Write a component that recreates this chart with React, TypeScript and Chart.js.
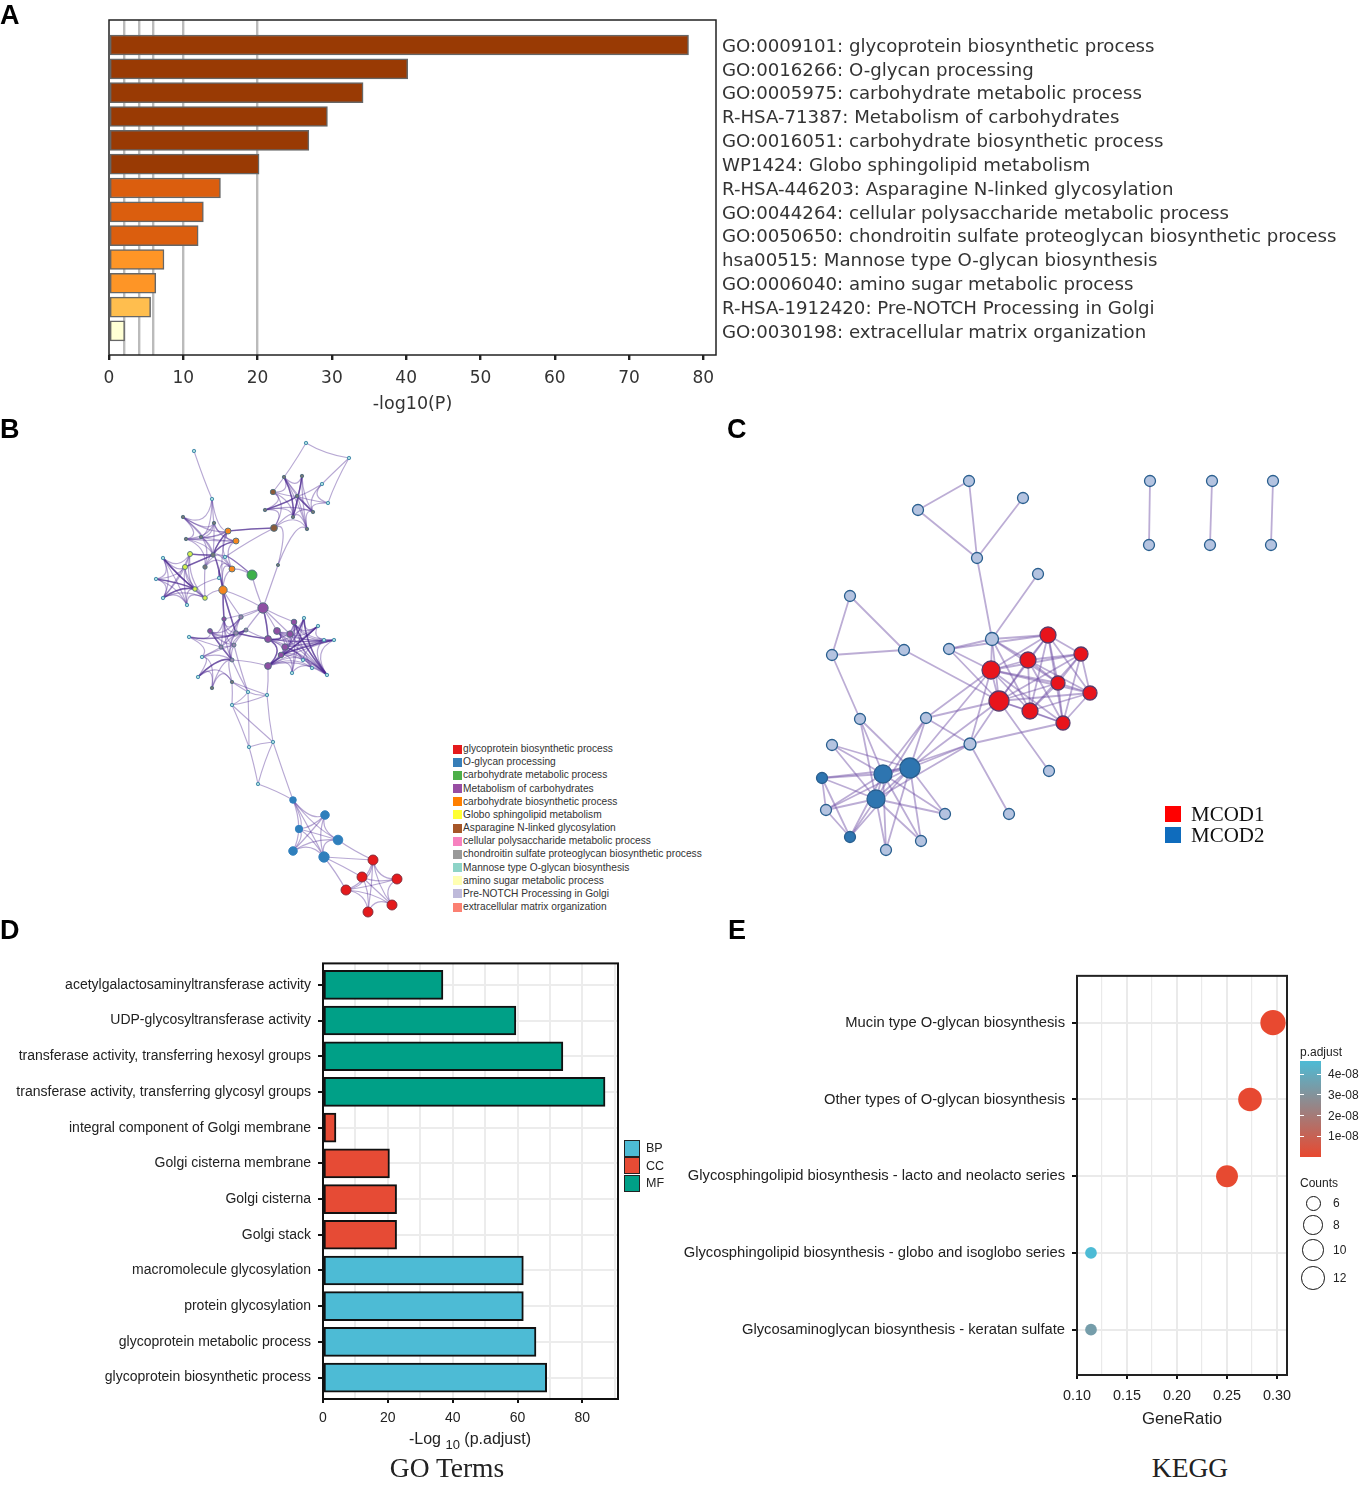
import React, { useEffect, useRef } from "react";
import { Chart, registerables } from "chart.js";

Chart.register(...registerables);

// ---------- Panel A ----------
const aTerms = [
  "GO:0009101: glycoprotein biosynthetic process",
  "GO:0016266: O-glycan processing",
  "GO:0005975: carbohydrate metabolic process",
  "R-HSA-71387: Metabolism of carbohydrates",
  "GO:0016051: carbohydrate biosynthetic process",
  "WP1424: Globo sphingolipid metabolism",
  "R-HSA-446203: Asparagine N-linked glycosylation",
  "GO:0044264: cellular polysaccharide metabolic process",
  "GO:0050650: chondroitin sulfate proteoglycan biosynthetic process",
  "hsa00515: Mannose type O-glycan biosynthesis",
  "GO:0006040: amino sugar metabolic process",
  "R-HSA-1912420: Pre-NOTCH Processing in Golgi",
  "GO:0030198: extracellular matrix organization",
];
const aValues = [78, 40.2, 34.2, 29.4, 26.9, 20.2, 15, 12.7, 12, 7.4, 6.3, 5.6, 2.1];
const aLevels = [0, 0, 0, 0, 0, 0, 1, 1, 1, 2, 2, 3, 4];
const aPalette = ["#993A04", "#DB5E0E", "#FE9526", "#FFBE4E", "#FFFFD4"];
const aTicks = [0, 2, 4, 6, 10, 20, 30, 40, 50, 60, 70, 80];
const aGridLines = [2, 4, 6, 10, 20];

// ---------- Panel B ----------
const bNodeX = [306,349,284,302,322,328,273,297,265,313,293,307,274,278, 194,212,183,214,228,236,186,201,213,225,205,232,219,252,223, 163,190,185,156,195,205,163,187, 263, 224,241,210,236,246,189,221,234,202,232,198,212,232, 294,304,318,277,290,268,285,324,334,281,303,268,312,292,327, 248,267,232,273,249,258, 293,325,299,338,293,324, 373,362,397,346,392,368];
const bNodeY = [443,458,477,476,484,503,492,496,510,512,517,529,528,565, 451,499,517,523,531,541,539,537,555,557,567,569,578,575,590, 558,554,567,579,589,598,598,605, 608, 619,617,631,633,630,637,647,645,657,660,677,688,682, 622,618,626,631,634,639,647,640,640,655,660,666,668,673,675, 692,695,705,742,747,784, 800,815,829,840,851,857, 860,877,879,890,905,912];
const bNodeGroup = [9,9,8,8,9,9,6,8,8,8,8,8,6,8, 9,9,8,8,4,4,8,8,8,9,8,4,9,2,4, 9,5,5,9,5,5,9,9, 3, 3,11,3,11,11,9,11,11,9,11,9,8,8, 3,9,9,3,3,3,3,9,9,3,9,3,9,9,9, 9,9,9,9,9,9, 1,1,1,1,1,1, 0,0,0,0,0,0];
const bNodeSize = [1.7,1.7,1.7,1.7,1.7,1.7,2.7,1.7,1.7,1.7,1.7,1.7,3.4,1.6, 1.7,1.7,1.7,1.7,3,3,1.7,1.7,2.2,1.7,2.2,3,1.7,5,4.2, 1.7,2.5,2.5,1.7,2.3,2.3,1.7,1.7, 5.2, 2.2,2.2,2.4,2.2,2,1.7,2,2,1.7,2,1.7,1.7,1.7, 2.8,1.7,1.7,3.4,3.2,3.4,3.2,1.7,1.7,2.8,1.7,3.4,1.7,1.7,1.7, 1.7,1.7,1.7,1.7,1.7,1.7, 3.3,4.3,3.7,4.8,4.3,5.2, 5,5,5,5,5,5];
const bClusterStarts = [0, 14, 29, 37, 38, 51, 66, 72, 78];
const bLinks: [number, number[]][] = [
  [2,[7,10,6,9,3,11]],[3,[7,10,11,9]],[6,[12,8,7,10]],[7,[8,9,10,11,4,5]],[8,[10,12,9]],[10,[12,9,11]],[9,[11,5,4]],[4,[5]],[12,[13,11,18,23]],[11,[13]],[13,[37]],
  [15,[17,16,18,21]],[16,[17,20,21,22,18]],[17,[21,20,22,18,19]],[18,[22,19,28,21,20]],[19,[22,20,21,25]],[20,[21,22,24]],[21,[22,24]],[22,[24,25,28,30,31]],[23,[25,27,24,18]],[25,[28,24,26]],[26,[28,33]],
  [29,[30,31,32,33,35,36,34]],[30,[31,33,34,35]],[31,[32,33,34,35,36]],[32,[33,35,36]],[33,[34,35,36]],[34,[35,36,28,24]],[35,[36]],
  [27,[28,37,23]],[28,[37,38,39,41]],[37,[54,56,51,55,38,42,39]],
  [38,[39,40,41,42,45,47,44]],[39,[40,41,42,44]],[40,[41,43,44,45,42]],[41,[42,44,45,47,56]],[42,[45,56,47]],[43,[44,46]],[44,[45,46,47]],[45,[47,46,66]],[46,[47,49,48]],[47,[50,48,49,62,66]],[48,[49,50]],[49,[50]],[50,[68,66,67]],
  [51,[52,53,54,55,56,57,65,64,63,59,58]],[52,[55,57,60,65,64,54,53]],[53,[55,57,60,62,59]],[54,[55,56,57,60,65,58]],[55,[56,57,60,65,59,62]],[56,[57,60,62,65,59,58]],[57,[60,62,63,65,59,58,61]],[58,[59,61,65,60]],[59,[60,62,65]],[60,[62,64,61,65]],[61,[62,63,65]],[62,[63,64,65,67]],[64,[65]],[63,[65]],
  [72,[73,74,75,76,77]],[73,[74,75,76,77]],[74,[75,76,77]],[75,[76,77,78]],[76,[77]],[77,[78,79,81]],
  [78,[79,80,81,82,83]],[79,[80,81,82,83]],[80,[81,82]],[81,[82,83]],[82,[83]],
];
const bSparseLinks: [number, number[]][] = [
  [0,[1,6]],[1,[4,5]],[14,[15]],
  [66,[67,68,70]],[67,[68,69]],[68,[69,70]],[69,[70,71,72]],[70,[71]],[71,[72]],
];
const bHeavyLinks: [number, number[]][] = [
  [18,[22]],[19,[22]],[22,[28,30,31]],[12,[18]],[2,[10]],[3,[10]],[8,[7]],[7,[9]],[29,[33]],[32,[33]],[35,[33]],[28,[38,41]],[37,[56]],[56,[54,62]],[51,[65]],[52,[65]],[53,[62]],[59,[60]],[40,[47]],[43,[42]],[41,[56]],[48,[47]],
];
const bLegendTerms = [
  "glycoprotein biosynthetic process","O-glycan processing","carbohydrate metabolic process","Metabolism of carbohydrates","carbohydrate biosynthetic process","Globo sphingolipid metabolism","Asparagine N-linked glycosylation","cellular polysaccharide metabolic process","chondroitin sulfate proteoglycan biosynthetic process","Mannose type O-glycan biosynthesis","amino sugar metabolic process","Pre-NOTCH Processing in Golgi","extracellular matrix organization",
];
const bLegendPalette = ["#E41A1C","#377EB8","#4DAF4A","#984EA3","#FF7F00","#FFFF33","#A65628","#F781BF","#999999","#8DD3C7","#FFFFB3","#BEBADA","#FB8072"];
const bNodePalette = ["#E41A1C","#2F7FBC","#3DB04A","#8E4FA3","#F5861F","#D6F24A","#8A5A3A","#F781BF","#767676","#A6DCDC","#FFFFB3","#9A86B0","#FB8072"];

// ---------- Panel C ----------
const cNodeX = [969,918,1023,977,1150,1149,1212,1210,1273,1271,1038,850,832,904,949,992,1048,1081,1028,991,1058,1090,999,1030,1063,860,926,970,832,1049,910,883,822,876,826,945,1009,850,921,886];
const cNodeY = [481,510,498,558,481,545,481,545,481,545,574,596,655,650,649,639,635,654,660,670,683,693,701,711,723,719,718,744,745,771,768,774,778,799,810,814,814,837,841,850];
const cNodeGroup = [2,2,2,2,2,2,2,2,2,2,2,2,2,2,2,2,0,0,0,0,0,0,0,0,0,2,2,2,2,2,1,1,1,1,2,2,2,1,2,2];
const cNodeSize = [5.5,5.5,5.5,5.5,5.5,5.5,5.5,5.5,5.5,5.5,5.5,5.5,5.5,5.5,5.5,6.5,8,7,8,9,7,7,10,8,7,5.5,5.5,6,5.5,5.5,10,9,5.5,9,5.5,5.5,5.5,5.5,5.5,5.5];
const cLinks: [number, number[]][] = [
  [0,[1,3]],[1,[3]],[2,[3]],[3,[15]],[10,[15]],[4,[5]],[6,[7]],[8,[9]],
  [11,[12,13]],[12,[13,25]],[13,[22]],[14,[15,19,16,22]],[15,[16,18,19,22,20,23]],
  [16,[17,18,19,20,21,22,23,24]],[17,[18,19,20,21,22,23,24]],[18,[19,20,21,22,23,24]],[19,[20,22,23,24,21]],[20,[21,22,23,24]],[21,[22,23,24]],[22,[23,24,29]],[23,[24]],
  [26,[19,22,27,30,33,31]],[27,[19,30,31,33,24,36,22]],[25,[30,31,33]],[28,[30,31,33]],[32,[31,30,33,34,37]],
  [33,[30,31,34,35,37,38,39]],[31,[30,34,35,37,38,39]],[30,[34,35,37,38,39,19,22]],[34,[37]],
];
const cNodePalette = ["#E8141C", "#2E75B0", "#B4C3E0"];
const cLegendNames = ["MCOD1", "MCOD2"];
const cLegendPalette = ["#FF0000", "#0F6CBD"];

// ---------- Panel D ----------
const dTerms = [
  "acetylgalactosaminyltransferase activity","UDP-glycosyltransferase activity","transferase activity, transferring hexosyl groups","transferase activity, transferring glycosyl groups","integral component of Golgi membrane","Golgi cisterna membrane","Golgi cisterna","Golgi stack","macromolecule glycosylation","protein glycosylation","glycoprotein metabolic process","glycoprotein biosynthetic process",
];
const dValues = [37, 59.5, 74, 87, 4, 20.5, 22.7, 22.7, 61.8, 61.8, 65.7, 69];
const dClasses = [2, 2, 2, 2, 1, 1, 1, 1, 0, 0, 0, 0];
const dClassNames = ["BP", "CC", "MF"];
const dPalette = ["#4DBBD5", "#E64B35", "#00A087"];
const dTicks = [0, 10, 20, 30, 40, 50, 60, 70, 80, 90];

// ---------- Panel E ----------
const ePathways = [
  "Mucin type O-glycan biosynthesis","Other types of O-glycan biosynthesis","Glycosphingolipid biosynthesis - lacto and neolacto series","Glycosphingolipid biosynthesis - globo and isoglobo series","Glycosaminoglycan biosynthesis - keratan sulfate",
];
const eGeneRatio = [0.296, 0.273, 0.25, 0.114, 0.114];
const eCounts = [13, 12, 11, 5, 5];
const ePAdjust = [1e-10, 2e-10, 3e-10, 4.6e-8, 3.4e-8];
const eXTicks = [0.1, 0.125, 0.15, 0.175, 0.2, 0.225, 0.25, 0.275, 0.3];
const eColorTicks = ["4e-08", "3e-08", "2e-08", "1e-08"];
const eSizeLegend = [6, 8, 10, 12];
const eSizeLegendRadius = [7.5, 9.7, 10.7, 11.8];
const eSizeLegendY = [1203, 1225, 1250, 1278];
const ePMax = 4.6e-8;

const SANS = '"Liberation Sans", Arial, sans-serif';
const DEJA = '"DejaVu Sans", sans-serif';
const SERIF = '"Liberation Serif", serif';

const eRadius = (count: number) => 0.85 * count + 1.6;
const eColor = (p: number) => {
  const t = Math.min(1, p / ePMax);
  const mix = (a: number, b: number) => Math.round(a + (b - a) * t);
  return `rgb(${mix(232, 77)},${mix(73, 187)},${mix(48, 213)})`;
};

const framePlugin = {
  id: "frame",
  afterDatasetsDraw(c: any, _a: any, o: any) {
    const { left, top, width, height } = c.chartArea;
    const ctx = c.ctx;
    ctx.save();
    ctx.strokeStyle = o.color || "#000";
    ctx.lineWidth = o.width || 2;
    ctx.strokeRect(left, top, width, height);
    ctx.restore();
  },
};

const expand = (links: [number, number[]][]) =>
  links.flatMap(([a, bs]) => bs.map((b) => [a, b] as [number, number]));

// Draws network edges through the chart's scales; bend pulls edges towards their cluster's centre.
function edgePlugin(
  xs: number[],
  ys: number[],
  tiers: { links: [number, number[]][]; color: string; width: number; bend?: number }[],
  clusterStarts?: number[],
) {
  const clusterOf = (i: number) => {
    if (!clusterStarts) return 0;
    let c = 0;
    clusterStarts.forEach((s, k) => {
      if (i >= s) c = k;
    });
    return c;
  };
  const centres: Record<number, [number, number]> = {};
  if (clusterStarts) {
    clusterStarts.forEach((_s, k) => {
      const idx = xs.map((_, i) => i).filter((i) => clusterOf(i) === k);
      centres[k] = [
        idx.reduce((t, i) => t + xs[i], 0) / idx.length,
        idx.reduce((t, i) => t + ys[i], 0) / idx.length,
      ];
    });
  }
  return {
    id: "edges",
    beforeDatasetsDraw(c: any) {
      const ctx = c.ctx;
      const X = c.scales.x;
      const Y = c.scales.y;
      ctx.save();
      ctx.lineCap = "round";
      tiers.forEach((tier) => {
        ctx.strokeStyle = tier.color;
        ctx.lineWidth = tier.width;
        expand(tier.links).forEach(([a, b]) => {
          const mx = (xs[a] + xs[b]) / 2;
          const my = (ys[a] + ys[b]) / 2;
          let cx = mx;
          let cy = my;
          if (clusterStarts) {
            const ca = clusterOf(a);
            const cb = clusterOf(b);
            const k = ca === cb ? tier.bend ?? 0.6 : 0.12;
            const tx = (centres[ca][0] + centres[cb][0]) / 2;
            const ty = (centres[ca][1] + centres[cb][1]) / 2;
            cx = mx + (tx - mx) * k;
            cy = my + (ty - my) * k;
          }
          ctx.beginPath();
          ctx.moveTo(X.getPixelForValue(xs[a]), Y.getPixelForValue(ys[a]));
          ctx.quadraticCurveTo(
            X.getPixelForValue(cx),
            Y.getPixelForValue(cy),
            X.getPixelForValue(xs[b]),
            Y.getPixelForValue(ys[b]),
          );
          ctx.stroke();
        });
      });
      ctx.restore();
    },
  };
}

const noExtras = { legend: { display: false }, tooltip: { enabled: false }, title: { display: false } };

function Panel({ left, top, width, height, make }: any) {
  const ref = useRef<HTMLCanvasElement>(null);
  useEffect(() => {
    const chart = new Chart(ref.current as HTMLCanvasElement, make());
    return () => chart.destroy();
  }, []);
  return (
    <canvas
      ref={ref}
      width={width}
      height={height}
      style={{ position: "absolute", left, top, width, height, display: "block" }}
    />
  );
}

function panelA() {
  return {
    type: "bar",
    data: {
      datasets: [
        {
          data: aValues.map((v, i) => ({ x: v, y: i })),
          backgroundColor: aLevels.map((l) => aPalette[l]),
          borderColor: "#666",
          borderWidth: 1.5,
          borderSkipped: false,
          barThickness: 20,
        },
      ],
    },
    plugins: [framePlugin],
    options: {
      indexAxis: "y",
      responsive: false,
      animation: false,
      layout: { autoPadding: false, padding: { left: 109, top: 20, right: 0, bottom: 0 } },
      plugins: { ...noExtras, frame: { color: "#222", width: 1.5 } },
      scales: {
        x: {
          type: "linear",
          min: 0,
          max: 81.7,
          afterFit: (s: any) => { s.height = 65; },
          afterBuildTicks: (s: any) => { s.ticks = aTicks.map((value) => ({ value })); },
          grid: {
            color: (c: any) => (aGridLines.includes(c.tick?.value) ? "#BBBBBB" : "transparent"),
            lineWidth: 2.4,
            tickColor: (c: any) => (c.tick?.value % 10 === 0 ? "#222" : "transparent"),
            tickLength: 5,
          },
          border: { display: false },
          ticks: {
            autoSkip: false,
            maxRotation: 0,
            color: "#333",
            font: { family: DEJA, size: 17 },
            padding: 8,
            callback: (v: number) => (v % 10 === 0 ? String(v) : ""),
          },
          title: { display: true, text: "-log10(P)", color: "#333", font: { family: DEJA, size: 17.5 }, padding: { top: 0, bottom: 5 } },
        },
        y: {
          type: "linear",
          display: false,
          reverse: true,
          offset: false,
          min: -1.05,
          max: 13.01,
          grid: { offset: false },
        },
        termAxis: {
          type: "linear",
          position: "right",
          reverse: true,
          offset: false,
          min: -1.134,
          max: 12.926,
          afterFit: (s: any) => { s.width = 651; },
          afterBuildTicks: (s: any) => { s.ticks = aTerms.map((_, value) => ({ value })); },
          grid: { display: false, drawTicks: false, offset: false },
          border: { display: false },
          ticks: {
            autoSkip: false,
            color: "#333",
            padding: 6,
            font: { family: DEJA, size: 18.16 },
            callback: (v: number) => aTerms[v],
          },
        },
      },
    },
  };
}

function networkConfig(
  xs: number[],
  ys: number[],
  sizes: number[],
  fills: string[],
  borders: string[],
  borderWidth: number,
  box: { left: number; top: number; width: number; height: number },
  plugin: any,
) {
  return {
    type: "scatter",
    data: {
      datasets: [
        {
          data: xs.map((x, i) => ({ x, y: ys[i] })),
          pointRadius: sizes,
          pointBackgroundColor: fills,
          pointBorderColor: borders,
          pointBorderWidth: borderWidth,
          showLine: false,
          clip: false,
        },
      ],
    },
    plugins: [plugin],
    options: {
      responsive: false,
      animation: false,
      layout: { autoPadding: false, padding: 0 },
      plugins: noExtras,
      scales: {
        x: { type: "linear", display: false, min: box.left, max: box.left + box.width },
        y: { type: "linear", display: false, reverse: true, min: box.top, max: box.top + box.height },
      },
    },
  };
}

const bBox = { left: 140, top: 430, width: 290, height: 495 };
const cBox = { left: 800, top: 460, width: 500, height: 410 };

function panelB() {
  return networkConfig(
    bNodeX,
    bNodeY,
    bNodeSize,
    bNodeGroup.map((g) => bNodePalette[g]),
    bNodeGroup.map((g) => (g === 9 ? "#3F87A8" : g === 0 ? "#7A2A3A" : g === 1 ? "#2F7FBC" : "#4F6F7F")),
    0.9,
    bBox,
    edgePlugin(
      bNodeX,
      bNodeY,
      [
        { links: bLinks, color: "rgba(84,48,150,0.42)", width: 1.2 },
        { links: bSparseLinks, color: "rgba(84,48,150,0.42)", width: 1.1, bend: 0.08 },
        { links: bHeavyLinks, color: "rgba(72,36,140,0.6)", width: 1.6 },
      ],
      bClusterStarts,
    ),
  );
}

function panelC() {
  return networkConfig(
    cNodeX,
    cNodeY,
    cNodeSize,
    cNodeGroup.map((g) => cNodePalette[g]),
    cNodeGroup.map((g) => (g === 0 ? "#5A3A6A" : "#2A5F8F")),
    1.3,
    cBox,
    edgePlugin(cNodeX, cNodeY, [{ links: cLinks, color: "rgba(112,80,165,0.47)", width: 1.8 }]),
  );
}

function panelD() {
  return {
    type: "bar",
    data: {
      datasets: [
        {
          data: dValues.map((v, i) => ({ x: v, y: i })),
          backgroundColor: dClasses.map((c) => dPalette[c]),
          borderColor: "#111",
          borderWidth: 2,
          borderSkipped: false,
          barThickness: 29,
        },
      ],
    },
    plugins: [framePlugin],
    options: {
      indexAxis: "y",
      responsive: false,
      animation: false,
      layout: { autoPadding: false, padding: { left: 0, top: 15, right: 42, bottom: 0 } },
      plugins: { ...noExtras, frame: { color: "#111", width: 2 } },
      scales: {
        x: {
          type: "linear",
          min: 0,
          max: 91,
          afterFit: (s: any) => { s.height = 41; },
          afterBuildTicks: (s: any) => { s.ticks = dTicks.map((value) => ({ value })); },
          grid: {
            color: "#ECECEC",
            lineWidth: 2,
            tickColor: (c: any) => (c.tick?.value % 20 === 0 ? "#111" : "transparent"),
            tickLength: 4,
          },
          border: { display: false },
          ticks: {
            autoSkip: false,
            maxRotation: 0,
            color: "#222",
            font: { family: SANS, size: 14 },
            padding: 7,
            callback: (v: number) => (v % 20 === 0 ? String(v) : ""),
          },
        },
        y: {
          type: "linear",
          reverse: true,
          offset: false,
          min: -0.6,
          max: 11.6,
          afterFit: (s: any) => { s.width = 323; },
          afterBuildTicks: (s: any) => { s.ticks = dTerms.map((_, value) => ({ value })); },
          grid: { offset: false, color: "#ECECEC", lineWidth: 2, tickColor: "#111", tickLength: 5 },
          border: { display: false },
          ticks: {
            autoSkip: false,
            color: "#222",
            padding: 7,
            font: { family: SANS, size: 14 },
            callback: (v: number) => dTerms[v],
          },
        },
      },
    },
  };
}

function panelE() {
  return {
    type: "bubble",
    data: {
      datasets: [
        {
          data: eGeneRatio.map((x, i) => ({ x, y: i, r: eRadius(eCounts[i]) })),
          backgroundColor: ePAdjust.map(eColor),
          borderColor: ePAdjust.map(eColor),
          borderWidth: 0,
          clip: false,
        },
      ],
    },
    plugins: [framePlugin],
    options: {
      responsive: false,
      animation: false,
      layout: { autoPadding: false, padding: { left: 0, top: 15, right: 80, bottom: 0 } },
      plugins: { ...noExtras, frame: { color: "#222", width: 2 } },
      scales: {
        x: {
          type: "linear",
          min: 0.1,
          max: 0.31,
          afterFit: (s: any) => { s.height = 65; },
          afterBuildTicks: (s: any) => { s.ticks = eXTicks.map((value) => ({ value })); },
          grid: {
            color: "#EAEAEA",
            lineWidth: (c: any) => (Math.round((c.tick?.value ?? 0) * 1000) % 50 === 0 ? 2 : 1.2),
            tickColor: (c: any) => (Math.round((c.tick?.value ?? 0) * 1000) % 50 === 0 ? "#111" : "transparent"),
            tickLength: 4,
          },
          border: { display: false },
          ticks: {
            autoSkip: false,
            maxRotation: 0,
            color: "#222",
            font: { family: SANS, size: 14.4 },
            padding: 8,
            callback: (v: number) => (Math.round(v * 1000) % 50 === 0 ? v.toFixed(2) : ""),
          },
          title: { display: true, text: "GeneRatio", color: "#222", font: { family: SANS, size: 16.8 }, padding: { top: 0, bottom: 11 } },
        },
        y: {
          type: "linear",
          reverse: true,
          min: -0.61,
          max: 4.59,
          afterFit: (s: any) => { s.width = 417; },
          afterBuildTicks: (s: any) => { s.ticks = ePathways.map((_, value) => ({ value })); },
          grid: { color: "#EAEAEA", lineWidth: 2, tickColor: "#111", tickLength: 5 },
          border: { display: false },
          ticks: {
            autoSkip: false,
            color: "#222",
            padding: 7,
            font: { family: SANS, size: 14.76 },
            callback: (v: number) => ePathways[v],
          },
        },
      },
    },
  };
}

function Label({ x, y, children, style }: any) {
  return (
    <div
      style={{
        position: "absolute",
        left: x,
        top: y,
        transform: "translateY(-50%)",
        whiteSpace: "nowrap",
        lineHeight: 1,
        fontFamily: SANS,
        ...style,
      }}
    >
      {children}
    </div>
  );
}

const Box = ({ x, y, w, h, style }: any) => (
  <div style={{ position: "absolute", left: x, top: y, width: w, height: h, boxSizing: "border-box", ...style }} />
);

const panelLetters: [string, number, number][] = [
  ["A", 0, 15], ["B", 0, 429], ["C", 727, 429], ["D", 0, 930], ["E", 728, 930],
];

export default function App() {
  return (
    <div style={{ position: "absolute", left: 0, top: 0, width: 1367, height: 1486, background: "#fff", overflow: "hidden" }}>
      <Panel left={0} top={0} width={1367} height={420} make={panelA} />
      <Panel {...bBox} make={panelB} />
      <Panel {...cBox} make={panelC} />
      <Panel left={0} top={948} width={660} height={492} make={panelD} />
      <Panel left={660} top={960} width={707} height={480} make={panelE} />

      {panelLetters.map(([t, x, y]) => (
        <Label key={t} x={x} y={y} style={{ fontWeight: 700, fontSize: 27, color: "#000" }}>{t}</Label>
      ))}

      {bLegendTerms.map((t, i) => {
        const y = 749 + i * 13.17;
        return (
          <React.Fragment key={t}>
            <Box x={453} y={y - 4.5} w={8.5} h={9} style={{ background: bLegendPalette[i] }} />
            <Label x={463} y={y} style={{ fontSize: 11.5, color: "#333", transform: "translateY(-50%) scaleX(0.885)", transformOrigin: "left center" }}>{t}</Label>
          </React.Fragment>
        );
      })}

      {cLegendNames.map((t, i) => {
        const y = 814 + i * 21;
        return (
          <React.Fragment key={t}>
            <Box x={1165} y={y - 8} w={16} h={16} style={{ background: cLegendPalette[i] }} />
            <Label x={1191} y={y} style={{ fontFamily: SERIF, fontSize: 21, color: "#111" }}>{t}</Label>
          </React.Fragment>
        );
      })}

      {dClassNames.map((t, i) => {
        const y = 1148 + i * 17.7;
        return (
          <React.Fragment key={t}>
            <Box x={624} y={y - 8.5} w={16} h={17} style={{ background: dPalette[i], border: "1.5px solid #222" }} />
            <Label x={646} y={y} style={{ fontSize: 12.5, color: "#222" }}>{t}</Label>
          </React.Fragment>
        );
      })}
      <Label x={470} y={1439} style={{ fontSize: 16, color: "#222", transform: "translate(-50%,-50%)" }}>
        -Log <span style={{ fontSize: 13, position: "relative", top: 5 }}>10</span> (p.adjust)
      </Label>
      <Label x={447} y={1468} style={{ fontFamily: SERIF, fontSize: 27.5, color: "#222", transform: "translate(-50%,-50%)" }}>GO Terms</Label>
      <Label x={1190} y={1468} style={{ fontFamily: SERIF, fontSize: 27.5, color: "#222", transform: "translate(-50%,-50%)" }}>KEGG</Label>

      <Label x={1300} y={1052} style={{ fontSize: 12, color: "#222" }}>p.adjust</Label>
      <Box x={1300} y={1061} w={21} h={96} style={{ background: "linear-gradient(to bottom, #4DBBD5, #E84930)" }} />
      {eColorTicks.map((t, i) => {
        const y = 1074 + i * 20.8;
        return (
          <React.Fragment key={t}>
            <Box x={1300} y={y - 0.5} w={4} h={1} style={{ background: "#fff" }} />
            <Box x={1317} y={y - 0.5} w={4} h={1} style={{ background: "#fff" }} />
            <Label x={1328} y={y} style={{ fontSize: 12, color: "#222" }}>{t}</Label>
          </React.Fragment>
        );
      })}
      <Label x={1300} y={1183} style={{ fontSize: 12, color: "#222" }}>Counts</Label>
      {eSizeLegend.map((n, i) => {
        const y = eSizeLegendY[i];
        const r = eSizeLegendRadius[i];
        return (
          <React.Fragment key={n}>
            <Box x={1313 - r} y={y - r} w={2 * r} h={2 * r} style={{ border: "1.6px solid #111", borderRadius: "50%" }} />
            <Label x={1333} y={y} style={{ fontSize: 12, color: "#222" }}>{n}</Label>
          </React.Fragment>
        );
      })}
    </div>
  );
}
